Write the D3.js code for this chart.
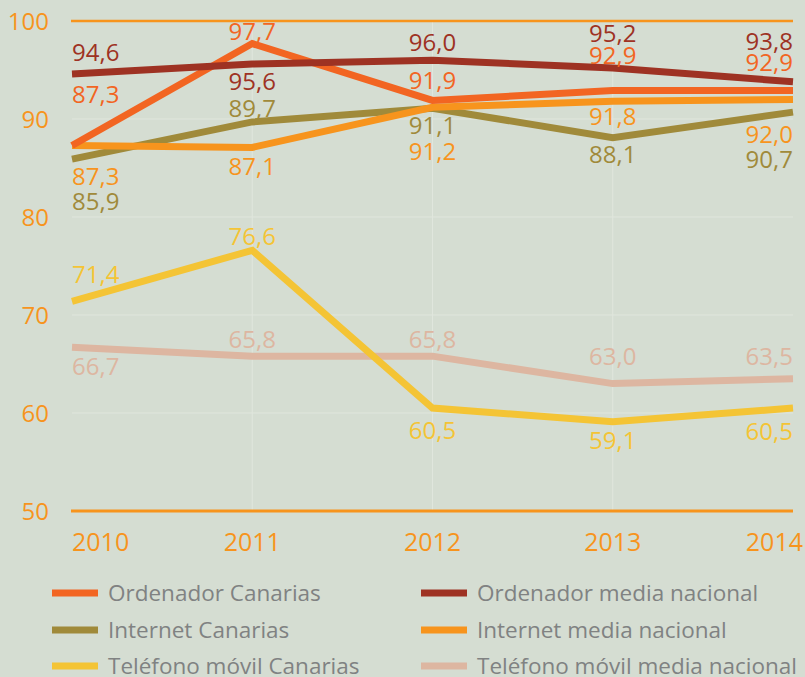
<!DOCTYPE html>
<html><head><meta charset="utf-8">
<script src="https://cdn.jsdelivr.net/npm/d3@7"></script>
<style>
html,body{margin:0;padding:0;background:#d5ddd2;}
svg{display:block;}
text{font-family:"Open Sans",sans-serif;}
</style></head>
<body>
<svg id="c" width="805" height="677"></svg>
<script>
const years = ["2010","2011","2012","2013","2014"];
const yTicks = [50,60,70,80,90,100];
const seriesNames = ["Ordenador Canarias","Ordenador media nacional","Internet Canarias","Internet media nacional","Teléfono móvil Canarias","Teléfono móvil media nacional"];
const ordenadorCanarias = [87.3,97.7,91.9,92.9,92.9];
const ordenadorNacional = [94.6,95.6,96.0,95.2,93.8];
const internetCanarias = [85.9,89.7,91.1,88.1,90.7];
const internetNacional = [87.3,87.1,91.2,91.8,92.0];
const movilCanarias = [71.4,76.6,60.5,59.1,60.5];
const movilNacional = [66.7,65.8,65.8,63.0,63.5];

// styling (not data)
const colors = ["#f26522","#9e3223","#a08a3a","#f7941d","#f4c435","#ddb6a1"];
const labelDy = [
  [-51,-12,-20,-35,-28],
  [-22,17,-18,-35,-40],
  [42,-14,17,17,47],
  [31,19,44,15,35],
  [-27,-14,22,19,23],
  [19,-17,-17,-27,-22]
];
const drawOrder = [5,4,2,3,0,1];

const values = [ordenadorCanarias,ordenadorNacional,internetCanarias,internetNacional,movilCanarias,movilNacional];
const svg = d3.select("#c");
const x = d3.scalePoint().domain(years).range([72,793]);
const y = d3.scaleLinear().domain([50,100]).range([511,21]);
const orange = "#f7941d";

// grid
const g = svg.append("g");
g.selectAll("line.h").data(yTicks.filter(t=>t>50&&t<100)).join("line")
  .attr("x1",72).attr("x2",793).attr("y1",d=>y(d)).attr("y2",d=>y(d))
  .attr("stroke","#e0e6dd").attr("stroke-width",1);
g.selectAll("line.v").data(years.slice(1,4)).join("line")
  .attr("x1",d=>x(d)).attr("x2",d=>x(d)).attr("y1",y(100)).attr("y2",y(50))
  .attr("stroke","#e0e6dd").attr("stroke-width",1);
// axis lines
[100,50].forEach(v=>{
  svg.append("line").attr("x1",71).attr("x2",793).attr("y1",y(v)).attr("y2",y(v))
    .attr("stroke",orange).attr("stroke-width",v===100?2.5:3);
});
// y tick labels
svg.selectAll("text.yt").data(yTicks).join("text")
  .attr("x",49).attr("y",d=>y(d)).attr("dy","0.36em").attr("text-anchor","end")
  .attr("font-size",24).attr("fill",orange).text(d=>d);
// x labels
svg.selectAll("text.xt").data(years).join("text")
  .attr("x",(d,i)=> i===0?72:(i===4?803:x(d)))
  .attr("y",542).attr("dy","0.36em")
  .attr("text-anchor",(d,i)=> i===0?"start":(i===4?"end":"middle"))
  .attr("font-size",25).attr("fill",orange).text(d=>d);

// lines
const line = d3.line().x((d,i)=>x(years[i])).y(d=>y(d));
drawOrder.forEach(s=>{
  svg.append("path").datum(values[s]).attr("d",line).attr("fill","none")
    .attr("stroke",colors[s]).attr("stroke-width",7).attr("stroke-linejoin","miter");
});
// labels
const fmt = v=>v.toFixed(1).replace(".",",");
values.forEach((vals,s)=>{
  svg.append("g").selectAll("text").data(vals).join("text")
    .attr("x",(d,i)=> i===0?72:(i===4?793:x(years[i])))
    .attr("y",(d,i)=>y(d)+labelDy[s][i]).attr("dy","0.36em")
    .attr("text-anchor",(d,i)=> i===0?"start":(i===4?"end":"middle"))
    .attr("font-size",24).attr("fill",colors[s]).text(fmt);
});

// legend
const leg = svg.append("g");
const rowsY = [593,630,666];
seriesNames.forEach((n,i)=>{
  const col = i%2, row = Math.floor(i/2);
  const lx = col===0?52:421;
  leg.append("rect").attr("x",lx).attr("y",rowsY[row]-3.5).attr("width",46).attr("height",7).attr("fill",colors[i]);
  leg.append("text").attr("x",lx+56).attr("y",rowsY[row]).attr("dy","0.36em")
    .attr("font-size",22.5).attr("fill","#808282").text(n);
});
</script>
</body></html>
